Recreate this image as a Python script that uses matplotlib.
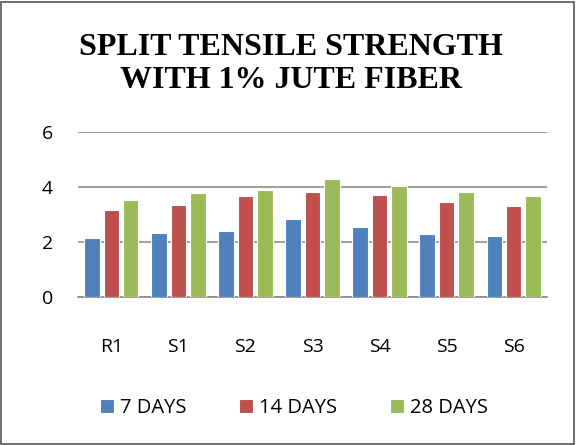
import matplotlib
import numpy as np

matplotlib.use("Agg")
import matplotlib.pyplot as plt  # noqa: E402
from matplotlib.patches import Rectangle  # noqa: E402

categories = ["R1", "S1", "S2", "S3", "S4", "S5", "S6"]
days_7 = [2.13, 2.31, 2.41, 2.82, 2.53, 2.28, 2.21]
days_14 = [3.16, 3.35, 3.67, 3.82, 3.71, 3.44, 3.30]
days_28 = [3.53, 3.77, 3.89, 4.28, 4.04, 3.81, 3.66]
series_names = ["7 DAYS", "14 DAYS", "28 DAYS"]
colors = ["#4F81BD", "#C0504D", "#9BBB59"]
yticks = [0, 2, 4, 6]

plt.rcParams["font.family"] = ["Open Sans", "DejaVu Sans"]

fig = plt.figure(figsize=(5.76, 4.45), dpi=100)
ax = fig.add_axes([0.135, 0.333, 0.815, 0.37])

x = np.arange(len(categories))
w = 0.23
step = 0.29
for i, (vals, name, c) in enumerate(zip([days_7, days_14, days_28], series_names, colors)):
    ax.bar(x + (i - 1) * step, vals, width=w, color=c, edgecolor="white",
           linewidth=0.8, label=name, zorder=3)

ax.set_xlim(-0.5, len(categories) - 0.5)
ax.set_ylim(0, 6)
ax.set_yticks(yticks)
ax.yaxis.grid(True, color="#8C8C8C", linewidth=1.2, zorder=0)
ax.set_xticks(x)
ax.set_xticklabels(categories, fontsize=14)
ax.tick_params(axis="y", labelsize=14, length=0, pad=18)
ax.tick_params(axis="x", length=0, pad=30)
for s in ["top", "right", "left"]:
    ax.spines[s].set_visible(False)
ax.spines["bottom"].set_color("#8C8C8C")
ax.spines["bottom"].set_linewidth(1.2)

fig.text(0.505, 0.856, "SPLIT TENSILE STRENGTH\nWITH 1% JUTE FIBER",
         ha="center", va="center", fontsize=23, fontweight="bold",
         family="Liberation Serif", linespacing=1.15)

fig.legend(loc="center", bbox_to_anchor=(0.51, 0.083), ncol=3, frameon=False,
           fontsize=14.5, handlelength=0.7, handleheight=0.7, handletextpad=0.3,
           columnspacing=2.6)

fig.patches.append(Rectangle((0.002, 0.003), 0.994, 0.993, transform=fig.transFigure,
                             fill=False, edgecolor="#555555", linewidth=1.2))

fig.savefig("out.png", dpi=100)
